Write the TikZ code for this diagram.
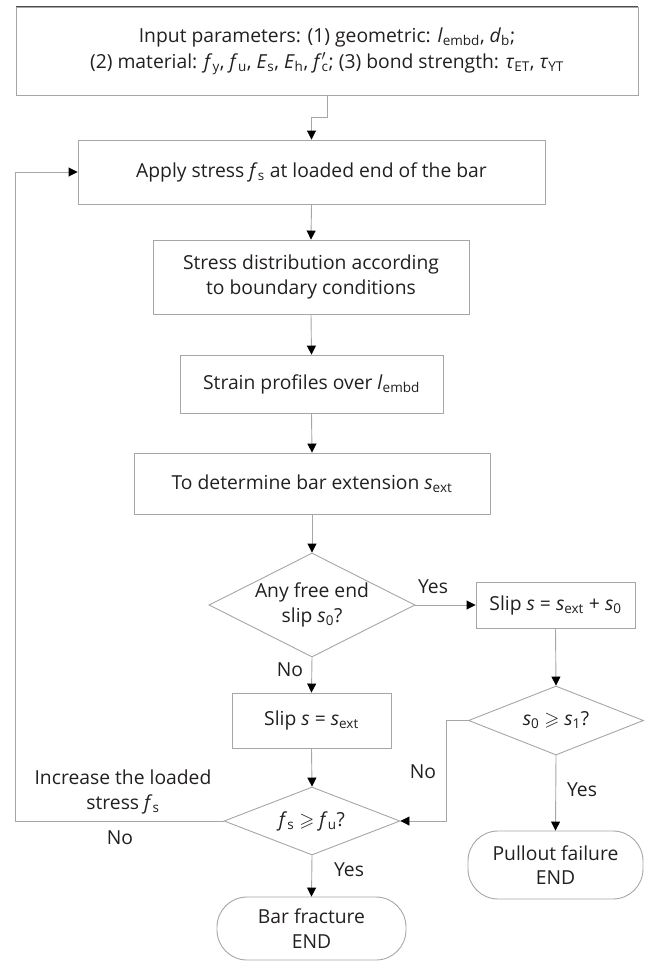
\documentclass[tikz,border=0pt]{standalone}
\usepackage{fontspec}
\setmainfont{Open Sans}
\usepackage{amssymb}
\usetikzlibrary{arrows.meta,shapes.geometric}
\newcommand\vv[2]{\textit{#1}\textsubscript{#2}}
\definecolor{linegray}{HTML}{A6A6A6}
\definecolor{txt}{HTML}{231F20}
\tikzset{
  every node/.style={font=\fontsize{19.3}{24.5}\selectfont, text=txt},
  box/.style={draw=linegray, line width=0.9pt, align=center, inner sep=0pt},
  dec/.style={draw=linegray, line width=0.9pt, diamond, align=center, inner sep=0pt, shape aspect=2},
  term/.style={draw=linegray, line width=0.9pt, align=center, inner sep=0pt, rounded corners=30pt},
  conn/.style={draw=linegray, line width=0.9pt, -{Triangle[length=9pt,width=9pt,color=black]}},
  lbl/.style={inner sep=0pt, align=center}
}
\begin{document}
\begin{tikzpicture}[x=1pt,y=-1pt]
\useasboundingbox (0,0) rectangle (649,962);
\node[box, minimum width=622pt, minimum height=88pt, font=\fontsize{19.3}{26}\selectfont] (top) at (327,51)
  {Input parameters: (1) geometric: \vv{l}{embd}, \vv{d}{b};\\
   (2) material: \vv{f}{y}, \vv{f}{u}, \vv{E}{s}, \vv{E}{h}, \textit{f}\rlap{$^{\prime}$}\textsubscript{c}; (3) bond strength: \vv{τ}{ET}, \vv{τ}{YT}};
\draw[txt!80, line width=1.4pt] (top.north west) -- (top.north east);
\node[box, minimum width=467pt, minimum height=64pt] (apply) at (311.5,172)
  {Apply stress \vv{f}{s} at loaded end of the bar};
\node[box, minimum width=316pt, minimum height=74pt] (dist) at (311,277)
  {Stress distribution according\\to boundary conditions};
\node[box, minimum width=263pt, minimum height=58pt] (strain) at (311.5,384)
  {Strain profiles over \vv{l}{embd}};
\node[box, minimum width=356pt, minimum height=61pt] (det) at (312,483.5)
  {To determine bar extension \vv{s}{ext}};
\node[dec, minimum width=206pt, minimum height=104pt] (d1) at (312,605)
  {Any free end\\slip \vv{s}{0}?};
\node[box, minimum width=159pt, minimum height=46pt] (slipB) at (555.5,605)
  {Slip \textit{s} = \vv{s}{ext} + \vv{s}{0}};
\node[box, minimum width=159pt, minimum height=55pt] (slipA) at (311.5,720.5)
  {Slip \textit{s} = \vv{s}{ext}};
\node[dec, shape aspect=2.5, minimum width=175pt, minimum height=69pt] (d2) at (556,720.5)
  {\vv{s}{0} $\geqslant$ \vv{s}{1}?};
\node[dec, shape aspect=2.5, minimum width=176pt, minimum height=68pt] (d3) at (312,821)
  {\vv{f}{s} $\geqslant$ \vv{f}{u}?};
\node[term, minimum width=189pt, minimum height=63pt] (bar) at (311.5,928.5)
  {Bar fracture\\END};
\node[term, minimum width=175pt, minimum height=68pt] (pull) at (555.5,865)
  {Pullout failure\\END};
% labels
\node[lbl] (yes1) at (433,587) {Yes};
\node[lbl] (no1) at (290,670) {No};
\node[lbl] (no2) at (423,772) {No};
\node[lbl] (yes2) at (582,790) {Yes};
\node[lbl] (yes3) at (349,870) {Yes};
\node[lbl] (inc) at (123,792) {Increase the loaded\\stress \vv{f}{s}};
\node[lbl] (no3) at (120,838) {No};
% connectors
\draw[conn] (top.south) -- ++(0,22) -| (apply.north);
\draw[conn] (apply.south) -- (dist.north);
\draw[conn] (dist.south) -- (strain.north);
\draw[conn] (strain.south) -- (det.north);
\draw[conn] (det.south) -- (d1.north);
\draw[conn] (d1.east) -- (slipB.west);
\draw[conn] (d1.south) -- (slipA.north);
\draw[conn] (slipB.south) -- (d2.north);
\draw[conn] (d2.west) -- ++(-22,0) |- (d3.east);
\draw[conn] (d2.south) -- (pull.north);
\draw[conn] (slipA.south) -- (d3.north);
\draw[conn] (d3.south) -- (bar.north);
\draw[conn] (d3.west) -- ++(-208,0) |- (apply.west);
\end{tikzpicture}
\end{document}
